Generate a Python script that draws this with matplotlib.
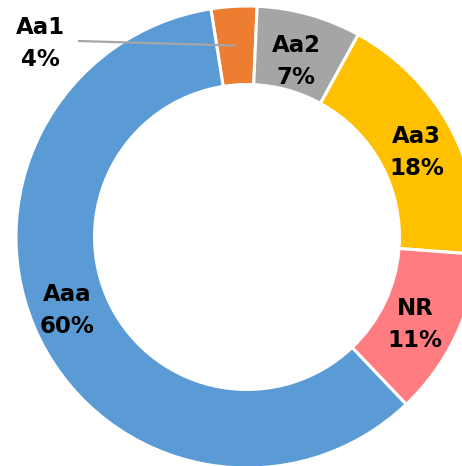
import numpy as np
import matplotlib
matplotlib.use("Agg")
import matplotlib.pyplot as plt

categories = ["Aa1", "Aa2", "Aa3", "NR", "Aaa"]
values = [3.2, 7.3, 18.2, 11.7, 59.6]
pct_labels = ["4%", "7%", "18%", "11%", "60%"]
colors = ["#ED7D31", "#A5A5A5", "#FFC000", "#FF7C80", "#5B9BD5"]

W, H = 462, 466
cx, cy, R = 247, 237, 231  # pixel centre & radius

fig = plt.figure(figsize=(W / 100, H / 100), dpi=100)
ax = fig.add_axes([0, 0, 1, 1])

start = 99
wedges, _ = ax.pie(values, colors=colors, startangle=start, counterclock=False,
                   radius=1.0, wedgeprops=dict(width=0.34, edgecolor="white", linewidth=2.2),
                   normalize=True)
ax.set_xlim(-cx / R, (W - cx) / R)
ax.set_ylim(-(H - cy) / R, cy / R)
ax.set_aspect("auto")
ax.axis("off")

font = dict(fontsize=16.5, fontweight="bold", color="black", family="DejaVu Sans",
            ha="center", va="center", linespacing=1.5)

for i, (w, cat, pl) in enumerate(zip(wedges, categories, pct_labels)):
    mid_deg = (w.theta1 + w.theta2) / 2
    if cat == "Aa1":
        tx, ty = (40 - cx) / R, (cy - 43) / R
        r_in = 0.83
        mid = np.deg2rad(mid_deg)
        px, py = r_in * np.cos(mid), r_in * np.sin(mid)
        ax.plot([(78 - cx) / R, px], [(cy - 41) / R, py], color="#A6A6A6", lw=1.6,
                solid_capstyle="butt")
        ax.text(tx, ty, f"{cat}\n{pl}", **font)
        continue
    r = 0.79
    if cat == "Aaa":
        mid_deg -= 4
        r = 0.84
    elif cat == "Aa3":
        mid_deg -= 2
        r = 0.82
    elif cat == "NR":
        mid_deg -= 2
        r = 0.82
    mid = np.deg2rad(mid_deg)
    ax.text(r * np.cos(mid), r * np.sin(mid), f"{cat}\n{pl}", **font)

fig.savefig("out.png", dpi=100)
